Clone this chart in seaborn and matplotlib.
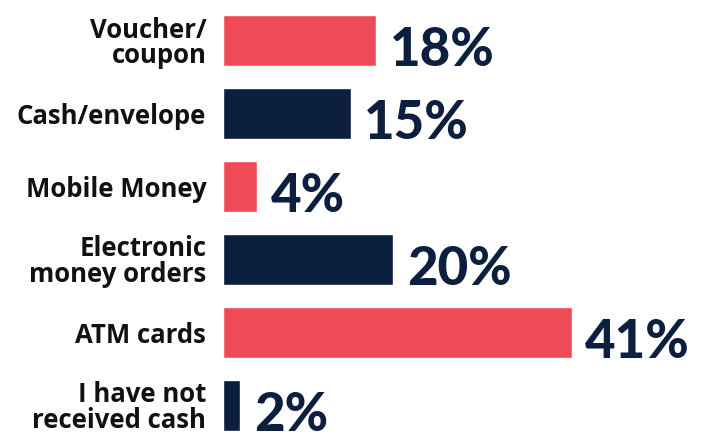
import matplotlib
matplotlib.use("Agg")
import matplotlib.pyplot as plt
import seaborn as sns
import pandas as pd

# Survey answers: how cash assistance was received
categories = [
    "Voucher/\ncoupon",
    "Cash/envelope",
    "Mobile Money",
    "Electronic\nmoney orders",
    "ATM cards",
    "I have not\nreceived cash",
]
shares = [18, 15, 4, 20, 41, 2]
bar_colors = ["#EF4B57", "#0C1F3F", "#EF4B57", "#0C1F3F", "#EF4B57", "#0C1F3F"]

NAVY = "#0C1F3F"

df = pd.DataFrame({"method": categories, "share": shares})

sns.set_theme(style="white")

fig = plt.figure(figsize=(7.08, 4.32), dpi=100)
W, H = 708, 432
left, right, top, bottom = 223, 708, 15, 431
ax = fig.add_axes([left / W, (H - bottom) / H, (right - left) / W, (bottom - top) / H])

sns.barplot(
    data=df, x="share", y="method", hue="method",
    palette=dict(zip(categories, bar_colors)),
    orient="h", width=0.7, legend=False, ax=ax, saturation=1,
)

ax.set_xlim(0, (right - left) / 8.5)
ax.set_ylim(5.35, -0.35)

# value labels sitting on the bar's bottom edge, just right of its end
for i, v in enumerate(shares):
    ax.annotate(
        f"{v}%", xy=(v, i + 0.35), xytext=(10, 0), textcoords="offset points",
        ha="left", va="baseline", fontsize=38, fontweight="black",
        family="Lato", color=NAVY, annotation_clip=False,
    )

ax.set_xlabel("")
ax.set_ylabel("")
ax.set_xticks([])
ax.tick_params(axis="y", length=0, pad=12)
for lbl in ax.get_yticklabels():
    lbl.set_fontfamily("Open Sans")
    lbl.set_fontweight("bold")
    lbl.set_fontsize(18.5)
    lbl.set_color("#111111")
    lbl.set_linespacing(0.92)
for s in ax.spines.values():
    s.set_visible(False)

fig.savefig("out.png", dpi=100)
